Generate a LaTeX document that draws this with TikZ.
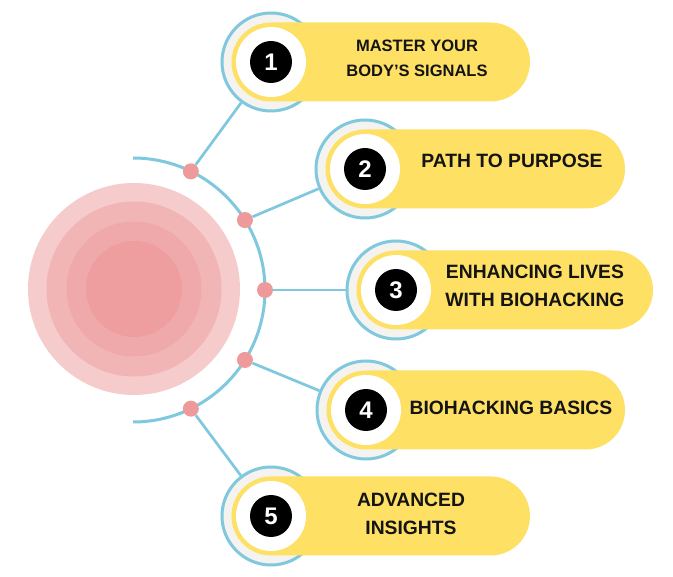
\documentclass[tikz,border=0pt]{standalone}
\usepackage{fontspec}
\setmainfont{Liberation Sans}
\usetikzlibrary{calc}
\definecolor{ringblue}{HTML}{7FC8DD}
\definecolor{pinkdot}{HTML}{EE9A9B}
\definecolor{pillyellow}{HTML}{FEE064}
\definecolor{ringgray}{HTML}{F4F3F0}
\definecolor{bgA}{HTML}{F5CBCB}
\definecolor{bgB}{HTML}{F2B5B5}
\definecolor{bgC}{HTML}{F0A9AA}
\definecolor{bgD}{HTML}{EE9E9F}
\definecolor{txt}{HTML}{141414}
\begin{document}
\begin{tikzpicture}[x=1pt,y=-1pt,
  ring/.style={circle, draw=ringblue, line width=3pt, fill=ringgray, minimum size=98pt, inner sep=0pt},
  wcirc/.style={circle, fill=white, minimum size=70pt, inner sep=0pt},
  num/.style={circle, fill=black, minimum size=42pt, inner sep=0pt, text=white, font=\bfseries\fontsize{24}{24}\selectfont},
  dotn/.style={circle, fill=pinkdot, minimum size=16pt, inner sep=0pt},
  link/.style={draw=ringblue, line width=2.7pt},
  arcline/.style={draw=ringblue, line width=3pt},
  pill/.style={fill=pillyellow, rounded corners=39.5pt},
  lab/.style={text=txt, font=\bfseries\fontsize{19.3}{28}\selectfont, align=center, inner sep=0pt},
  labsmall/.style={text=txt, font=\bfseries\fontsize{16.5}{25}\selectfont, align=center, inner sep=0pt}
]
\useasboundingbox[fill=white] (0,0) rectangle (673,577);

% central concentric circles
\fill[bgA] (134,289) circle[radius=106pt];
\fill[bgB] (134,289) circle[radius=87.5pt];
\fill[bgC] (134,289) circle[radius=67.5pt];
\fill[bgD] (134,289) circle[radius=48pt];

% arc
\coordinate (ac) at (133,290);
\coordinate (atop) at (133,158);
\draw[arcline] (atop) arc[start angle=90, end angle=-90, radius=132pt];

% dots
\node[dotn] (d1) at ($(ac)+(-64:132)$) {};
\node[dotn] (d2) at ($(ac)+(-32:132)$) {};
\node[dotn] (d3) at ($(ac)+(0:132)$) {};
\node[dotn] (d4) at ($(ac)+(32:132)$) {};
\node[dotn] (d5) at ($(ac)+(64:132)$) {};

% rings
\node[ring] (r1) at (271,62) {};
\node[ring] (r2) at (365,169) {};
\node[ring] (r3) at (396,290) {};
\node[ring] (r4) at (366,410) {};
\node[ring] (r5) at (271,516) {};

% pills
\fill[pill] (231.5,22.5) rectangle (530,101.5);
\fill[pill] (325.5,129.5) rectangle (625,208.5);
\fill[pill] (356.5,250.5) rectangle (653,329.5);
\fill[pill] (326.5,370.5) rectangle (625,449.5);
\fill[pill] (231.5,476.5) rectangle (530,555.5);

% white circles
\node[wcirc] (w1) at (r1) {};
\node[wcirc] (w2) at (r2) {};
\node[wcirc] (w3) at (r3) {};
\node[wcirc] (w4) at (r4) {};
\node[wcirc] (w5) at (r5) {};

% numbers
\node[num] (n1) at (r1) {1};
\node[num] (n2) at (r2) {2};
\node[num] (n3) at (r3) {3};
\node[num] (n4) at (r4) {4};
\node[num] (n5) at (r5) {5};

% labels
\node[labsmall] (t1) at (417,58.5) {MASTER YOUR\\BODY’S SIGNALS};
\node[lab] (t2) at (512,161) {PATH TO PURPOSE};
\node[lab] (t3) at (535,286) {ENHANCING LIVES\\WITH BIOHACKING};
\node[lab] (t4) at (511,408) {BIOHACKING BASICS};
\node[lab] (t5) at (411,514) {ADVANCED\\INSIGHTS};

% connectors
\draw[link] (d1) -- (r1);
\draw[link] (d2) -- (r2);
\draw[link] (d3) -- (r3);
\draw[link] (d4) -- (r4);
\draw[link] (d5) -- (r5);
\end{tikzpicture}
\end{document}
